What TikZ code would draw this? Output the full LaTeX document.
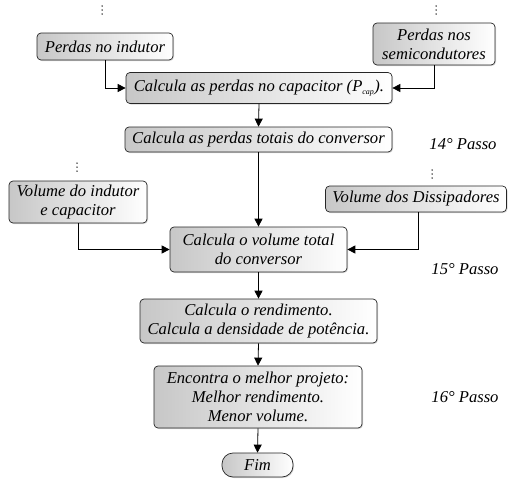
\documentclass[tikz,border=0pt]{standalone}
\usepackage{fontspec}
\setmainfont{Liberation Serif}
\usetikzlibrary{arrows.meta,shadows}
\begin{document}
\begin{tikzpicture}[x=1pt,y=-1pt,
  box/.style={draw=black!85, line width=0.7pt, rounded corners=4pt,
    left color=black!22, right color=white,
    drop shadow={shadow xshift=1pt,shadow yshift=-1pt,opacity=0.3},
    align=center, inner sep=1pt, font=\fontsize{16.6}{19}\selectfont\itshape},
  lbl/.style={font=\fontsize{16.6}{19}\selectfont\itshape},
  dotc/.style={fill=black},
  arr/.style={line width=0.8pt, -{Triangle[length=8pt,width=8pt]}}]
\useasboundingbox (0,0) rectangle (509,479);
\node[box, minimum width=136pt, minimum height=27pt] (ind) at (105,46.5) {Perdas no indutor};
\node[box, minimum width=122pt, minimum height=42pt] (semi) at (434,44) {Perdas nos\\semicondutores};
\node[box, minimum width=266pt, minimum height=31pt] (cap) at (259,88) {Calcula as perdas no capacitor (P\textsubscript{\fontsize{8}{8}\selectfont cap}).};
\node[box, minimum width=267pt, minimum height=25pt] (tot) at (258.5,139.5) {Calcula as perdas totais do conversor};
\node[box, minimum width=138pt, minimum height=42pt] (volind) at (78,202) {Volume do indutor\\e capacitor};
\node[box, minimum width=181pt, minimum height=26pt] (diss) at (416,199) {Volume dos Dissipadores};
\node[box, minimum width=177pt, minimum height=45pt] (voltot) at (258.5,249.5) {Calcula o volume total\\do conversor};
\node[box, minimum width=237pt, minimum height=44pt] (rend) at (258.5,321) {Calcula o rendimento.\\Calcula a densidade de potência.};
\node[box, minimum width=208pt, minimum height=62pt] (enc) at (258,397) {Encontra o melhor projeto:\\Melhor rendimento.\\Menor volume.};
\node[box, rounded corners=11pt, minimum width=71pt, minimum height=24pt] (fim) at (257.5,465) {Fim};
\node[lbl] (p14) at (463,144) {14° Passo};
\node[lbl] (p15) at (465,269) {15° Passo};
\node[lbl] (p16) at (465,397) {16° Passo};
\foreach \x/\y in {102/6, 436/6, 77/163, 432/170}{
  \foreach \k in {0,4,8}{ \fill[dotc] (\x,\y+\k) circle (0.75pt); }
}
\draw[arr] (ind.south) |- (cap.west);
\draw[arr] (semi.south) |- (cap.east);
\draw[arr] (cap.south) -- (tot.north);
\draw[arr] (tot.south) -- (voltot.north);
\draw[arr] (volind.south) |- (voltot.west);
\draw[arr] ([xshift=2pt]diss.south) |- (voltot.east);
\draw[arr] (voltot.south) -- (rend.north);
\draw[arr] (rend.south) -- (enc.north);
\draw[arr] (enc.south) -- (fim.north);
\end{tikzpicture}
\end{document}
